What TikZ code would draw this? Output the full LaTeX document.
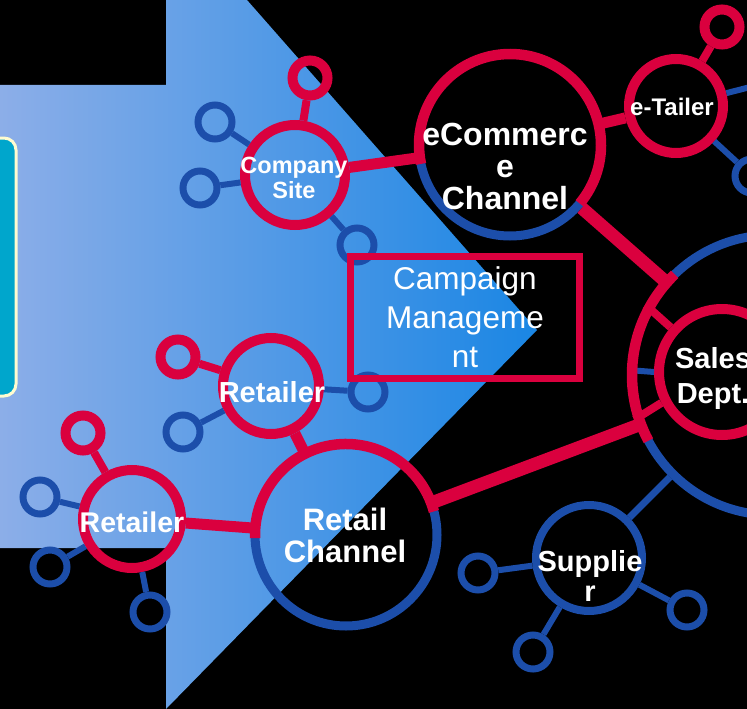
\documentclass[tikz,border=0pt]{standalone}
\usepackage{fontspec}
\setmainfont{Liberation Sans}
\usepackage{tikz}

\definecolor{crim}{RGB}{218,0,62}
\definecolor{ringblue}{RGB}{28,78,170}
\definecolor{arrowL}{RGB}{140,174,232}
\definecolor{arrowR}{RGB}{26,134,228}
\definecolor{tabcyan}{RGB}{0,166,204}
\definecolor{tabedge}{RGB}{255,252,208}

\begin{document}
\begin{tikzpicture}[x=1pt, y=-1pt]
        \tikzstyle{redhub} = [circle, draw=crim, line width=10pt, inner sep=0pt]
        \tikzstyle{bluehub} = [circle, draw=ringblue, line width=9pt, inner sep=0pt]
        \tikzstyle{redsat} = [circle, draw=crim, line width=10pt, inner sep=0pt, minimum size=35pt]
        \tikzstyle{bluesat} = [circle, draw=ringblue, line width=7pt, inner sep=0pt, minimum size=34pt]
        \tikzstyle{hubtext} = [text=white, align=center, inner sep=0pt]
        \tikzstyle{redlink} = [draw=crim, line width=11pt]
        \tikzstyle{redstem} = [draw=crim, line width=8pt]
        \tikzstyle{bluestem} = [draw=ringblue, line width=6pt]
        \tikzstyle{redarc} = [draw=crim, line width=10.5pt]
        \useasboundingbox (0,0) rectangle (747,709);
        \clip (0,0) rectangle (747,709);
        \fill[black] (0,0) rectangle (747,709);
        % arrow and tab
        \shade[left color=arrowL, right color=arrowR] (0,85) -- (166,85) -- (166,0) -- (247,0) -- (537,330) -- (166,709) -- (166,548) -- (0,548) -- cycle;
        \draw[tabedge, line width=3pt, fill=tabcyan, rounded corners=12pt] (-30,138) rectangle (16,396);
        % hubs
        \node[redhub, minimum size=100pt] (site) at (295,175) {};
        \node[bluehub, minimum size=182pt] (ecom) at (510,145) {};
        \node[redhub, minimum size=94pt] (etail) at (676,106) {};
        \node[bluehub, minimum size=280pt] (sales) at (772,375) {};
        \node[redhub, minimum size=126pt] (dept) at (722,372) {};
        \node[redhub, minimum size=96pt] (retA) at (271,386) {};
        \node[redhub, minimum size=98pt] (retB) at (132,519) {};
        \node[bluehub, minimum size=182pt] (retail) at (346,535) {};
        \node[bluehub, minimum size=106pt, line width=8pt] (supp) at (589,558) {};
        % satellites
        \node[redsat] (site1) at (310,78) {};
        \node[bluesat] (site2) at (215,122) {};
        \node[bluesat] (site3) at (200,188) {};
        \node[bluesat] (site4) at (357,245) {};
        \node[redsat] (etail1) at (722,27) {};
        \node[bluesat] (etail2) at (770,82) {};
        \node[bluesat] (etail3) at (752,176) {};
        \node[redsat] (retA1) at (178,357) {};
        \node[bluesat] (retA2) at (183,432) {};
        \node[bluesat] (retA3) at (368,392) {};
        \node[redsat] (retB1) at (83,433) {};
        \node[bluesat] (retB2) at (40,497) {};
        \node[bluesat] (retB3) at (50,567) {};
        \node[bluesat] (retB4) at (150,612) {};
        \node[bluesat] (supp1) at (478,573) {};
        \node[bluesat] (supp2) at (533,652) {};
        \node[bluesat] (supp3) at (687,610) {};
        % links
        \draw[redlink] (site) -- (ecom);
        \draw[redlink] (ecom) -- (etail);
        \draw[redlink, line width=13pt] (ecom) -- (sales);
        \draw[redlink, line width=13pt] (retail) -- (sales);
        \draw[redlink] (retB) -- (retail);
        \draw[redlink] (retA) -- (retail);
        \draw[bluestem, line width=7pt] (supp) -- (sales);
        \draw[redstem] (sales.151) -- (dept.139);
        \draw[redstem] (sales.198) -- (dept.207);
        \draw[bluestem] (sales.178) -- (dept.180);
        \draw[redstem] (site) -- (site1);
        \draw[bluestem] (site) -- (site2);
        \draw[bluestem] (site) -- (site3);
        \draw[bluestem] (site) -- (site4);
        \draw[redstem] (etail) -- (etail1);
        \draw[bluestem] (etail) -- (etail2);
        \draw[bluestem] (etail) -- (etail3);
        \draw[redstem] (retA) -- (retA1);
        \draw[bluestem] (retA) -- (retA2);
        \draw[bluestem] (retA) -- (retA3);
        \draw[redstem] (retB) -- (retB1);
        \draw[bluestem] (retB) -- (retB2);
        \draw[bluestem] (retB) -- (retB3);
        \draw[bluestem] (retB) -- (retB4);
        \draw[bluestem] (supp) -- (supp1);
        \draw[bluestem] (supp) -- (supp2);
        \draw[bluestem] (supp) -- (supp3);
        % red parts of the blue rings
        \draw[redarc] ([shift={(-40:91pt)}]ecom.center) arc[start angle=-40, end angle=192, radius=91pt];
        \draw[redarc] ([shift={(15:91pt)}]retail.center) arc[start angle=15, end angle=182, radius=91pt];
        \draw[redarc] ([shift={(134:140pt)}]sales.center) arc[start angle=134, end angle=208, radius=140pt];
        % box
        \node[draw=crim, line width=7pt, minimum width=229pt, minimum height=122pt, text=white, align=center, font=\fontsize{31.5}{39}\selectfont] (camp) at (465,317) {Campaign\\Manageme\\nt};
        % texts
        \node[hubtext, font=\bfseries\fontsize{23.5}{25}\selectfont] (site-t) at (294,178) {Company\\Site};
        \node[hubtext, font=\bfseries\fontsize{32}{32}\selectfont] (ecom-t) at (505,166) {eCommerc\\e\\Channel};
        \node[hubtext, font=\bfseries\fontsize{24}{24}\selectfont] (etail-t) at (672,107) {e-Tailer};
        \node[hubtext, font=\bfseries\fontsize{29}{35}\selectfont] (dept-t) at (713,378) {Sales\\Dept.};
        \node[hubtext, font=\bfseries\fontsize{29}{29}\selectfont] (retA-t) at (272,392) {Retailer};
        \node[hubtext, font=\bfseries\fontsize{28.5}{29}\selectfont] (retB-t) at (132,522) {Retailer};
        \node[hubtext, font=\bfseries\fontsize{31}{32}\selectfont] (retail-t) at (345,535) {Retail\\Channel};
        \node[hubtext, font=\bfseries\fontsize{29}{30}\selectfont] (supp-t) at (590,576) {Supplie\\r};
\end{tikzpicture}
\end{document}
